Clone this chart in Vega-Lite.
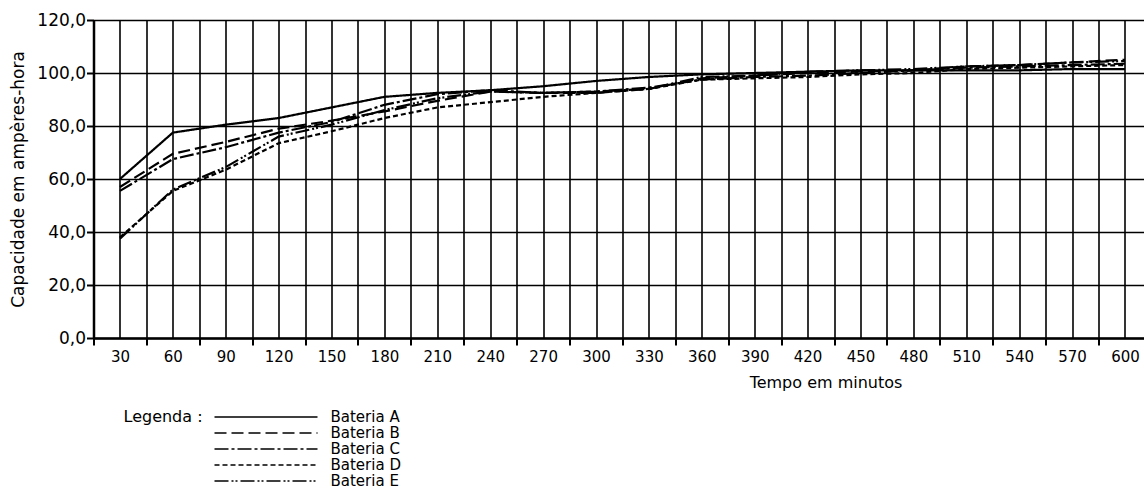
{
  "$schema": "https://vega.github.io/schema/vega-lite/v6.json",
  "width": 1050.5,
  "height": 318,
  "autosize": {"type": "none"},
  "padding": {"left": 93.5, "top": 20, "right": 0, "bottom": 166},
  "background": "white",
  "config": {"view": {"stroke": null}, "font": "DejaVu Sans"},
  "data": {"values": [
    {"t":30,"b":"Bateria A","v":60},{"t":30,"b":"Bateria B","v":57},{"t":30,"b":"Bateria C","v":55.5},{"t":30,"b":"Bateria D","v":38},{"t":30,"b":"Bateria E","v":37.5},
    {"t":60,"b":"Bateria A","v":77.5},{"t":60,"b":"Bateria B","v":69.5},{"t":60,"b":"Bateria C","v":67.5},{"t":60,"b":"Bateria D","v":55.5},{"t":60,"b":"Bateria E","v":56},
    {"t":90,"b":"Bateria A","v":80.5},{"t":90,"b":"Bateria B","v":74},{"t":90,"b":"Bateria C","v":72},{"t":90,"b":"Bateria D","v":63.5},{"t":90,"b":"Bateria E","v":64.5},
    {"t":120,"b":"Bateria A","v":83},{"t":120,"b":"Bateria B","v":79},{"t":120,"b":"Bateria C","v":77.5},{"t":120,"b":"Bateria D","v":73.5},{"t":120,"b":"Bateria E","v":76},
    {"t":150,"b":"Bateria A","v":87},{"t":150,"b":"Bateria B","v":82},{"t":150,"b":"Bateria C","v":81.5},{"t":150,"b":"Bateria D","v":78},{"t":150,"b":"Bateria E","v":80.5},
    {"t":180,"b":"Bateria A","v":91},{"t":180,"b":"Bateria B","v":85.5},{"t":180,"b":"Bateria C","v":88},{"t":180,"b":"Bateria D","v":83},{"t":180,"b":"Bateria E","v":86},
    {"t":210,"b":"Bateria A","v":92.5},{"t":210,"b":"Bateria B","v":89.5},{"t":210,"b":"Bateria C","v":92},{"t":210,"b":"Bateria D","v":87},{"t":210,"b":"Bateria E","v":90.5},
    {"t":240,"b":"Bateria A","v":93.5},{"t":240,"b":"Bateria B","v":93},{"t":240,"b":"Bateria C","v":93.5},{"t":240,"b":"Bateria D","v":89},{"t":240,"b":"Bateria E","v":93},
    {"t":270,"b":"Bateria A","v":95},{"t":270,"b":"Bateria B","v":92.5},{"t":270,"b":"Bateria C","v":92.5},{"t":270,"b":"Bateria D","v":91},{"t":270,"b":"Bateria E","v":92.5},
    {"t":300,"b":"Bateria A","v":97},{"t":300,"b":"Bateria B","v":92.5},{"t":300,"b":"Bateria C","v":93},{"t":300,"b":"Bateria D","v":92.5},{"t":300,"b":"Bateria E","v":93},
    {"t":330,"b":"Bateria A","v":98.5},{"t":330,"b":"Bateria B","v":94},{"t":330,"b":"Bateria C","v":94.5},{"t":330,"b":"Bateria D","v":94},{"t":330,"b":"Bateria E","v":94},
    {"t":360,"b":"Bateria A","v":99.5},{"t":360,"b":"Bateria B","v":98},{"t":360,"b":"Bateria C","v":97.5},{"t":360,"b":"Bateria D","v":97.5},{"t":360,"b":"Bateria E","v":98.5},
    {"t":390,"b":"Bateria A","v":100},{"t":390,"b":"Bateria B","v":99},{"t":390,"b":"Bateria C","v":98.5},{"t":390,"b":"Bateria D","v":98},{"t":390,"b":"Bateria E","v":99},
    {"t":420,"b":"Bateria A","v":100.5},{"t":420,"b":"Bateria B","v":100},{"t":420,"b":"Bateria C","v":99},{"t":420,"b":"Bateria D","v":98.5},{"t":420,"b":"Bateria E","v":100.5},
    {"t":450,"b":"Bateria A","v":101},{"t":450,"b":"Bateria B","v":100.5},{"t":450,"b":"Bateria C","v":100},{"t":450,"b":"Bateria D","v":99.5},{"t":450,"b":"Bateria E","v":101},
    {"t":480,"b":"Bateria A","v":101},{"t":480,"b":"Bateria B","v":101},{"t":480,"b":"Bateria C","v":101},{"t":480,"b":"Bateria D","v":100},{"t":480,"b":"Bateria E","v":101.5},
    {"t":510,"b":"Bateria A","v":101},{"t":510,"b":"Bateria B","v":102.5},{"t":510,"b":"Bateria C","v":102},{"t":510,"b":"Bateria D","v":101.5},{"t":510,"b":"Bateria E","v":102.5},
    {"t":540,"b":"Bateria A","v":101},{"t":540,"b":"Bateria B","v":103},{"t":540,"b":"Bateria C","v":102.5},{"t":540,"b":"Bateria D","v":102},{"t":540,"b":"Bateria E","v":103},
    {"t":570,"b":"Bateria A","v":101.5},{"t":570,"b":"Bateria B","v":104},{"t":570,"b":"Bateria C","v":103},{"t":570,"b":"Bateria D","v":102.5},{"t":570,"b":"Bateria E","v":104},
    {"t":600,"b":"Bateria A","v":101.5},{"t":600,"b":"Bateria B","v":105},{"t":600,"b":"Bateria C","v":103.5},{"t":600,"b":"Bateria D","v":103},{"t":600,"b":"Bateria E","v":104.5}
  ]},
  "mark": {"type": "line", "color": "black", "strokeWidth": 2.2, "clip": true},
  "encoding": {
    "x": {
      "field": "t", "type": "quantitative",
      "scale": {"domain": [15, 610.8], "nice": false, "zero": false},
      "axis": {
        "values": [15,30,45,60,75,90,105,120,135,150,165,180,195,210,225,240,255,270,285,300,315,330,345,360,375,390,405,420,435,450,465,480,495,510,525,540,555,570,585,600],
        "title": "Tempo em minutos",
        "grid": true, "gridColor": "black", "gridWidth": 1.6, "gridOpacity": 1,
        "domainColor": "black", "domainWidth": 2.5,
        "tickColor": "black", "tickWidth": 2, "tickSize": 7,
        "tickOpacity": {"condition": {"test": "datum.value % 30 == 15", "value": 1}, "value": 0},
        "labelExpr": "datum.value % 30 == 0 ? datum.label : ''",
        "labelFontSize": 15, "labelPadding": 4, "labelColor": "black",
        "labelFlush": false, "labelOverlap": false,
        "titleFontSize": 16, "titleFontWeight": "normal", "titleColor": "black",
        "titleX": 732, "titleY": 44, "titleBaseline": "middle"
      }
    },
    "y": {
      "field": "v", "type": "quantitative",
      "scale": {"domain": [0, 120], "nice": false},
      "axis": {
        "values": [0,20,40,60,80,100,120],
        "labelExpr": "replace(format(datum.value, '.1f'), '.', ',')",
        "title": "Capacidade em ampères-hora",
        "grid": true, "gridColor": "black", "gridWidth": 1.6, "gridOpacity": 1,
        "domainColor": "black", "domainWidth": 2.5,
        "tickColor": "black", "tickWidth": 2, "tickSize": 7,
        "labelFontSize": 17, "labelPadding": 1, "labelColor": "black",
        "titleFontSize": 17, "titleFontWeight": "normal", "titleColor": "black",
        "titleX": -75, "titleBaseline": "middle"
      }
    },
    "strokeDash": {
      "field": "b", "type": "nominal",
      "scale": {
        "domain": ["Bateria A","Bateria B","Bateria C","Bateria D","Bateria E"],
        "range": [[1,0],[12,5],[14,3,3,3],[5,3],[14,3,2,2,2,3]]
      },
      "legend": {
        "orient": "none", "legendX": 30, "legendY": 389,
        "title": "Legenda :", "titleOrient": "left", "titleAnchor": "start",
        "titleFontSize": 16, "titleFontWeight": "normal", "titleColor": "black", "titlePadding": 10,
        "symbolType": "stroke", "symbolSize": 10609, "clipHeight": 16,
        "symbolStrokeWidth": 1.5, "symbolStrokeColor": "black",
        "labelFontSize": 15, "labelColor": "black", "labelOffset": 12,
        "rowPadding": 0
      }
    }
  }
}
